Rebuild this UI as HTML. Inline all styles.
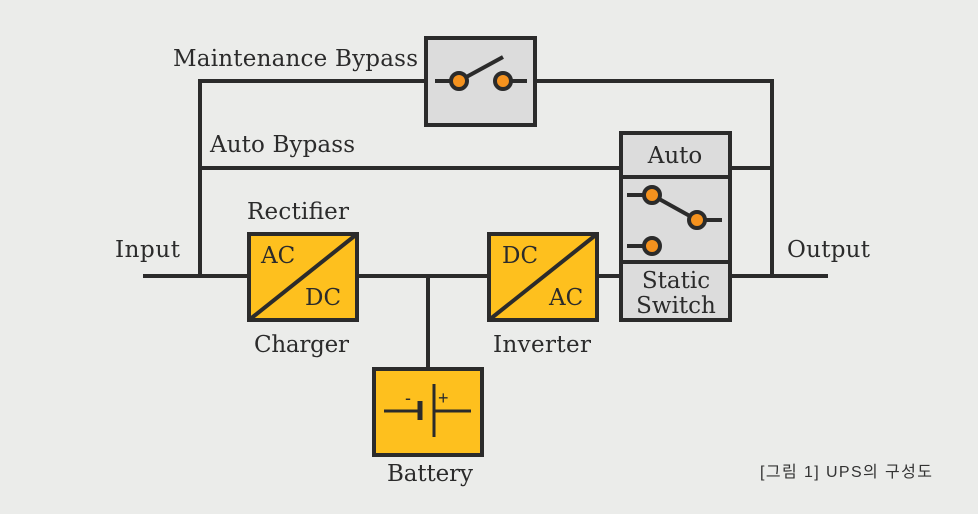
<!DOCTYPE html>
<html><head><meta charset="utf-8"><style>
html,body{margin:0;padding:0;background:#ebecea;}
svg{display:block}
.t{font-family:"DejaVu Serif","Liberation Serif",serif;font-size:23px;fill:#2b2b2b}
</style></head><body>
<svg width="978" height="514" viewBox="0 0 978 514" xmlns="http://www.w3.org/2000/svg">
<rect width="978" height="514" fill="#ebecea"/>
<g stroke="#2b2b2b" stroke-width="4" fill="none">
<polyline points="200,276 200,81 426,81"/>
<polyline points="535,81 772,81 772,276"/>
<line x1="200" y1="168" x2="621" y2="168"/>
<line x1="730" y1="168" x2="772" y2="168"/>
<line x1="143" y1="276" x2="249" y2="276"/>
<line x1="357" y1="276" x2="489" y2="276"/>
<line x1="597" y1="276" x2="621" y2="276"/>
<line x1="730" y1="276" x2="828" y2="276"/>
<line x1="428" y1="276" x2="428" y2="369"/>
</g>
<rect x="426" y="38" width="109" height="87" fill="#dcdcdc" stroke="#2b2b2b" stroke-width="4"/>
<g stroke="#2b2b2b" stroke-width="4">
<line x1="435" y1="81" x2="459" y2="81"/><line x1="503" y1="81" x2="527" y2="81"/>
<line x1="459" y1="81" x2="503" y2="57"/>
</g>
<circle cx="459" cy="81" r="8" fill="#f5921e" stroke="#2b2b2b" stroke-width="4"/>
<circle cx="503" cy="81" r="8" fill="#f5921e" stroke="#2b2b2b" stroke-width="4"/>
<rect x="621" y="133" width="109" height="187" fill="#dcdcdc" stroke="#2b2b2b" stroke-width="4"/>
<line x1="621" y1="177" x2="730" y2="177" stroke="#2b2b2b" stroke-width="4"/>
<line x1="621" y1="262" x2="730" y2="262" stroke="#2b2b2b" stroke-width="4"/>
<g stroke="#2b2b2b" stroke-width="4">
<line x1="627" y1="195" x2="652" y2="195"/><line x1="652" y1="195" x2="697" y2="220"/>
<line x1="697" y1="220" x2="722" y2="220"/><line x1="627" y1="246" x2="652" y2="246"/>
</g>
<circle cx="652" cy="195" r="8" fill="#f5921e" stroke="#2b2b2b" stroke-width="4"/>
<circle cx="697" cy="220" r="8" fill="#f5921e" stroke="#2b2b2b" stroke-width="4"/>
<circle cx="652" cy="246" r="8" fill="#f5921e" stroke="#2b2b2b" stroke-width="4"/>
<text class="t" x="675" y="163" text-anchor="middle">Auto</text>
<text class="t" x="676" y="288" text-anchor="middle">Static</text>
<text class="t" x="676" y="313" text-anchor="middle">Switch</text>
<rect x="249" y="234" width="108" height="86" fill="#fec01e" stroke="#2b2b2b" stroke-width="4"/>
<line x1="249" y1="320" x2="357" y2="234" stroke="#2b2b2b" stroke-width="4"/>
<text class="t" x="261" y="263">AC</text>
<text class="t" x="305" y="305">DC</text>
<rect x="489" y="234" width="108" height="86" fill="#fec01e" stroke="#2b2b2b" stroke-width="4"/>
<line x1="489" y1="320" x2="597" y2="234" stroke="#2b2b2b" stroke-width="4"/>
<text class="t" x="502" y="263">DC</text>
<text class="t" x="549" y="305">AC</text>
<rect x="374" y="369" width="108" height="86" fill="#fec01e" stroke="#2b2b2b" stroke-width="4"/>
<g stroke="#2b2b2b">
<line x1="384" y1="411" x2="420" y2="411" stroke-width="3"/>
<line x1="420" y1="401" x2="420" y2="420" stroke-width="5"/>
<line x1="434" y1="384" x2="434" y2="437" stroke-width="3"/>
<line x1="434" y1="411" x2="471" y2="411" stroke-width="3"/>
</g>
<text x="405" y="404" font-family="Liberation Sans,sans-serif" font-size="18" fill="#2b2b2b">-</text>
<text x="438" y="404" font-family="Liberation Sans,sans-serif" font-size="18" fill="#2b2b2b">+</text>
<text class="t" x="173" y="66" textLength="245">Maintenance Bypass</text>
<text class="t" x="210" y="152" textLength="145">Auto Bypass</text>
<text class="t" x="247" y="219" textLength="102">Rectifier</text>
<text class="t" x="115" y="257" textLength="65">Input</text>
<text class="t" x="787" y="257" textLength="83">Output</text>
<text class="t" x="254" y="352" textLength="95">Charger</text>
<text class="t" x="493" y="352" textLength="98">Inverter</text>
<text class="t" x="387" y="481" textLength="86">Battery</text>
<text x="760" y="477" font-family="Liberation Sans,'Noto Sans CJK KR',sans-serif" font-size="16" fill="#333" textLength="172">[그림 1] UPS의 구성도</text>
</svg>
</body></html>
